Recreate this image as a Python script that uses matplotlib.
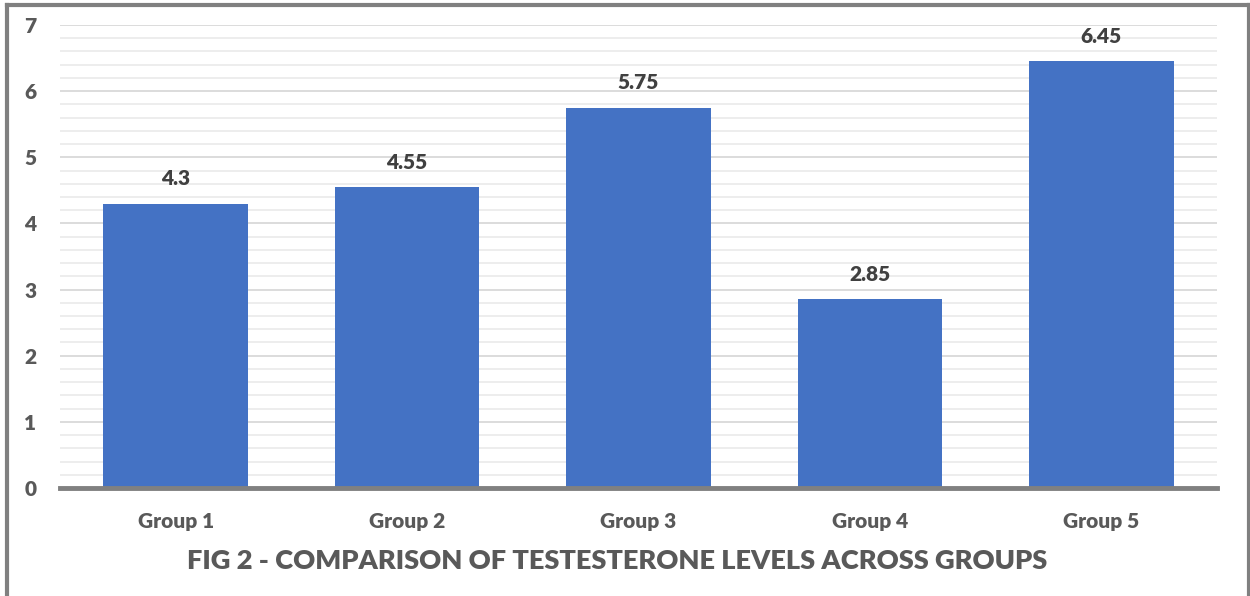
import matplotlib.pyplot as plt
from matplotlib.lines import Line2D
from matplotlib.ticker import MultipleLocator

groups = ["Group 1", "Group 2", "Group 3", "Group 4", "Group 5"]
levels = [4.3, 4.55, 5.75, 2.85, 6.45]
value_labels = ["4.3", "4.55", "5.75", "2.85", "6.45"]

plt.rcParams['font.family'] = ['Lato', 'DejaVu Sans']

W, H = 1250, 596
fig = plt.figure(figsize=(12.5, 5.96), dpi=100)
ax = fig.add_axes([60 / W, 1 - 488 / H, (1217 - 60) / W, (488 - 25) / H])

bars = ax.bar(groups, levels, width=0.625, color='#4472C4', zorder=3)
for bar, txt in zip(bars, value_labels):
    ax.annotate(txt, (bar.get_x() + bar.get_width() / 2, bar.get_height()),
                xytext=(0, 11), textcoords='offset points', ha='center', va='bottom',
                fontsize=15, fontweight='heavy', color='#404040')

ax.set_xlim(-0.5, 4.5)
ax.set_ylim(0, 7)
ax.yaxis.set_major_locator(MultipleLocator(1))
ax.yaxis.set_minor_locator(MultipleLocator(0.2))
ax.grid(axis='y', which='major', color='#d9d9d9', linewidth=1.3, zorder=0)
ax.grid(axis='y', which='minor', color='#ececec', linewidth=1.3, zorder=0)

for side in ['left', 'right', 'top']:
    ax.spines[side].set_visible(False)
ax.spines['bottom'].set_color('#808080')
ax.spines['bottom'].set_linewidth(3.5)
ax.spines['bottom'].set_zorder(4)

ax.tick_params(axis='both', which='both', length=0)
ax.tick_params(axis='y', pad=17, labelsize=15, labelcolor='#595959')
ax.tick_params(axis='x', pad=17, labelsize=15, labelcolor='#595959')
for lbl in ax.get_xticklabels() + ax.get_yticklabels():
    lbl.set_fontweight('heavy')

fig.text(617 / W, 1 - 561 / H, "FIG 2 - COMPARISON OF TESTESTERONE LEVELS ACROSS GROUPS",
         ha='center', va='center', fontsize=19.6, fontweight='heavy', color='#595959')

# outer frame
frame = dict(color='#808080', linewidth=3, transform=fig.transFigure)
fig.add_artist(Line2D([7 / W, 7 / W], [0, 1 - 5 / H], **frame))
fig.add_artist(Line2D([7 / W, 1248.5 / W], [1 - 5 / H, 1 - 5 / H], **frame))
fig.add_artist(Line2D([1248.5 / W, 1248.5 / W], [0, 1 - 5 / H], **frame))

fig.savefig('out.png', dpi=100)
